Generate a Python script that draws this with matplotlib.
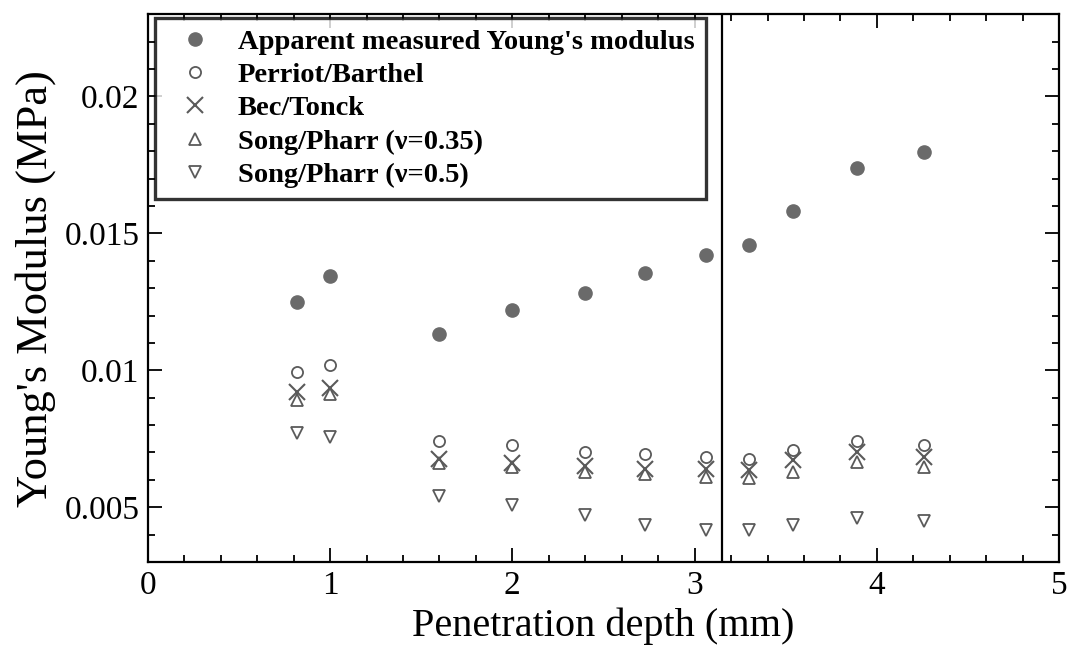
import matplotlib
matplotlib.use("Agg")
import matplotlib.pyplot as plt
from matplotlib.ticker import MultipleLocator

plt.rcParams["font.family"] = ["Liberation Serif", "DejaVu Serif"]

# penetration depth (mm)
depth = [0.82, 1.00, 1.60, 2.00, 2.40, 2.73, 3.06, 3.30, 3.54, 3.89, 4.26]

# Young's modulus (MPa)
apparent = [0.01248, 0.01343, 0.01131, 0.01219, 0.01281, 0.01354, 0.01420, 0.01456, 0.01580, 0.01740, 0.01796]
perriot = [0.00995, 0.01020, 0.00742, 0.00726, 0.00702, 0.00696, 0.00684, 0.00677, 0.00708, 0.00742, 0.00726]
bec = [0.00920, 0.00937, 0.00677, 0.00662, 0.00650, 0.00641, 0.00640, 0.00635, 0.00672, 0.00702, 0.00684]
song035 = [0.00892, 0.00915, 0.00663, 0.00647, 0.00629, 0.00623, 0.00611, 0.00605, 0.00629, 0.00665, 0.00647]
song05 = [0.00770, 0.00756, 0.00540, 0.00507, 0.00471, 0.00434, 0.00416, 0.00416, 0.00434, 0.00459, 0.00450]

vline_x = 3.15

fig = plt.figure(figsize=(10.71, 6.46), dpi=100)
ax = fig.add_axes([0.138, 0.130, 0.851, 0.848])

grey = "#5a5a5a"
ax.plot(depth, apparent, "o", ms=9.5, color="#6a6a6a", mec="#6a6a6a",
        label="Apparent measured Young's modulus")
ax.plot(depth, perriot, "o", ms=8, mfc="none", mec=grey, mew=1.3, label="Perriot/Barthel")
ax.plot(depth, bec, "x", ms=11, mec=grey, mew=1.5, label="Bec/Tonck")
ax.plot(depth, song035, "^", ms=8, mfc="none", mec=grey, mew=1.3, label="Song/Pharr (\u03bd=0.35)")
ax.plot(depth, song05, "v", ms=8, mfc="none", mec=grey, mew=1.3, label="Song/Pharr (\u03bd=0.5)")

ax.axvline(vline_x, color="black", lw=1.6)

ax.set_xlim(0, 5)
ax.set_ylim(0.003, 0.023)
ax.set_xticks([0, 1, 2, 3, 4, 5])
ax.set_yticks([0.005, 0.01, 0.015, 0.02])
ax.set_yticklabels(["0.005", "0.01", "0.015", "0.02"])
ax.xaxis.set_minor_locator(MultipleLocator(0.2))
ax.yaxis.set_minor_locator(MultipleLocator(0.001))
ax.tick_params(which="both", direction="in", top=True, right=True, labelsize=24, width=1.3)
ax.tick_params(which="major", length=10, pad=6)
ax.tick_params(which="minor", length=5)
for s in ax.spines.values():
    s.set_linewidth(1.6)

ax.set_xlabel("Penetration depth (mm)", fontsize=29, labelpad=5)
ax.set_ylabel("Young's Modulus (MPa)", fontsize=32, labelpad=6)

leg = ax.legend(loc="upper left", bbox_to_anchor=(0.008, 0.993), fancybox=False,
                prop={"weight": "bold", "size": 20.5}, labelspacing=0.25,
                handlelength=2.0, handletextpad=0.5, borderpad=0.4,
                frameon=True, borderaxespad=0)
leg.get_frame().set_edgecolor("black")
leg.get_frame().set_linewidth(2.4)

fig.savefig("out.png", dpi=100)
